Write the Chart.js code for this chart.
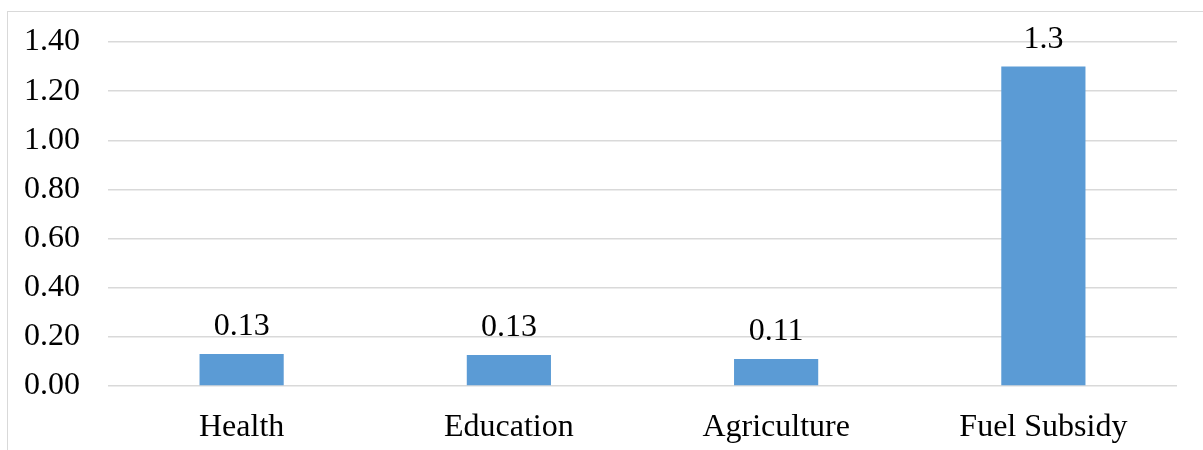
<!DOCTYPE html>
<html>
<head>
<meta charset="utf-8">
<script src="https://cdn.jsdelivr.net/npm/chart.js@4"></script>
<style>
  html, body { margin: 0; padding: 0; background: #fff; }
  #frame {
    position: absolute; left: 7px; top: 11px; width: 1210px; height: 460px;
    border: 1.5px solid #d9d9d9; box-sizing: border-box;
  }
  #wrap { position: absolute; left: 0; top: 0; width: 1203px; height: 450px; }
</style>
</head>
<body>
<div id="frame"></div>
<div id="wrap"><canvas id="chart"></canvas></div>
<script>
/* ===== data ===== */
const categories = ["Health", "Education", "Agriculture", "Fuel Subsidy"];
const values = [0.13, 0.126, 0.11, 1.3];
const yTicks = [0, 0.2, 0.4, 0.6, 0.8, 1.0, 1.2, 1.4];

const FONT = "'Liberation Serif', 'Times New Roman', serif";
const FONT_SIZE = 32;
const BAR_COLOR = "#5b9bd5";

function fmtLabel(v) {
  return String(Number(v.toFixed(2)));
}

/* ===== value labels above bars ===== */
const valueLabels = {
  id: "valueLabels",
  afterDatasetsDraw(chart) {
    const ctx = chart.ctx;
    const meta = chart.getDatasetMeta(0);
    ctx.save();
    ctx.font = FONT_SIZE + "px " + FONT;
    ctx.fillStyle = "#000";
    ctx.textAlign = "center";
    ctx.textBaseline = "alphabetic";
    meta.data.forEach((bar, i) => {
      ctx.fillText(fmtLabel(values[i]), bar.x, bar.y - 19);
    });
    ctx.restore();
  },
};

new Chart(document.getElementById("chart"), {
  type: "bar",
  data: {
    labels: categories,
    datasets: [{
      data: values,
      backgroundColor: BAR_COLOR,
      borderWidth: 0,
      categoryPercentage: 1,
      barPercentage: 0.315,
    }],
  },
  options: {
    responsive: true,
    maintainAspectRatio: false,
    animation: false,
    layout: { padding: { top: 42, right: 26, bottom: 0, left: 0 } },
    plugins: {
      legend: { display: false },
      tooltip: { enabled: false },
    },
    scales: {
      x: {
        afterFit(axis) { axis.height = 64; },
        grid: { display: false, drawTicks: false },
        border: { display: false },
        ticks: { color: "#000", font: { family: FONT, size: FONT_SIZE }, padding: 22 },
      },
      y: {
        min: 0,
        max: 1.4,
        afterBuildTicks(axis) {
          axis.ticks = yTicks.map(v => ({ value: v }));
        },
        afterFit(axis) {
          axis.width = 108;
          axis.paddingTop = 0;
          axis.paddingBottom = 0;
        },
        grid: { color: "#d9d9d9", lineWidth: 1.5, drawTicks: false },
        border: { display: false },
        ticks: {
          color: "#000",
          font: { family: FONT, size: FONT_SIZE },
          padding: 28,
          callback: v => Number(v).toFixed(2),
        },
      },
    },
  },
  plugins: [valueLabels],
});
</script>
</body>
</html>
